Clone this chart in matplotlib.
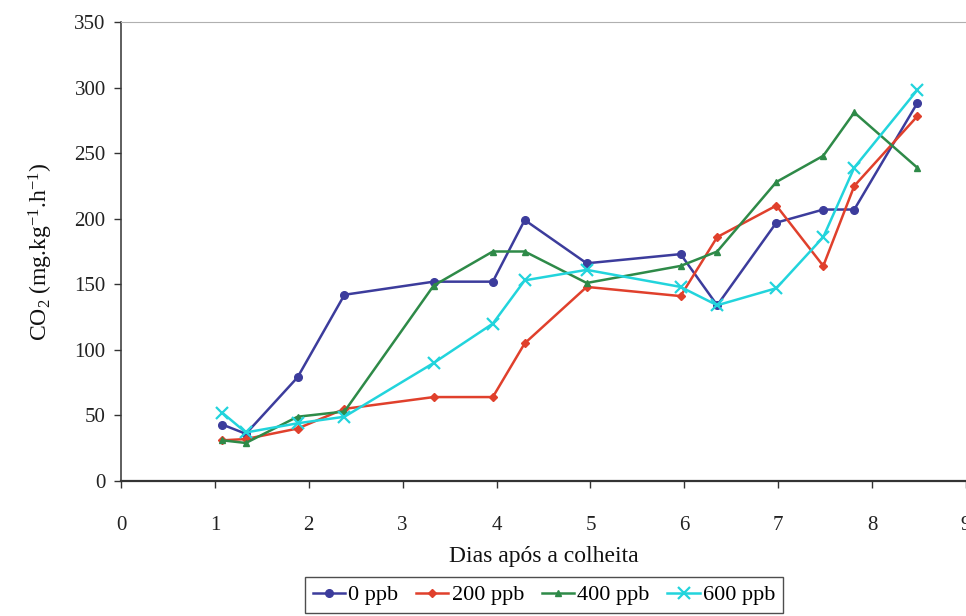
import matplotlib
matplotlib.use("Agg")
import matplotlib.pyplot as plt

# Dias após a colheita (horário de cada medição)
dias = [1.08, 1.33, 1.88, 2.38, 3.33, 3.96, 4.30, 4.96, 5.96, 6.35, 6.98, 7.48, 7.81, 8.48]

# Produção de CO2 (mg.kg-1.h-1) por concentração de etileno
co2_0ppb = [43, 36, 79, 142, 152, 152, 199, 166, 173, 134, 197, 207, 207, 288]
co2_200ppb = [31, 32, 40, 55, 64, 64, 105, 148, 141, 186, 210, 164, 225, 278]
co2_400ppb = [31, 29, 49, 53, 149, 175, 175, 151, 164, 175, 228, 248, 281, 239]
co2_600ppb = [52, 37, 44, 49, 90, 120, 153, 161, 148, 134, 147, 186, 239, 298]

rotulos = ["0 ppb", "200 ppb", "400 ppb", "600 ppb"]

plt.rcParams["font.family"] = ["Liberation Serif", "DejaVu Serif"]
plt.rcParams["mathtext.fontset"] = "custom"
plt.rcParams["mathtext.rm"] = "Liberation Serif"
plt.rcParams["mathtext.it"] = "Liberation Serif:italic"

W, H = 966, 616
fig = plt.figure(figsize=(W / 100, H / 100), dpi=100)
ax = fig.add_axes([121 / W, 1 - 481 / H, (966 - 121) / W, (481 - 22) / H])

series = [
    (co2_0ppb, "#3c3c9c", "o", 5.5, dict()),
    (co2_200ppb, "#e0402c", "D", 4.0, dict()),
    (co2_400ppb, "#2e8a48", "^", 5.0, dict()),
    (co2_600ppb, "#22d4dc", "x", 9.0, dict(markeredgewidth=1.6)),
]

for (vals, cor, mk, ms, extra), rot in zip(series, rotulos):
    ax.plot(dias, vals, color=cor, marker=mk, markersize=ms, linewidth=1.8,
            label=rot, clip_on=False, **extra)

ax.set_xlim(0, 9)
ax.set_ylim(0, 350)
ax.set_xticks(range(0, 10))
ax.set_yticks(range(0, 351, 50))
ax.tick_params(axis="both", labelsize=15, length=5, width=1, color="#333333",
               colors="#222222", direction="out")
ax.tick_params(axis="x", pad=20)
ax.tick_params(axis="y", pad=6)

ax.spines["right"].set_visible(False)
ax.spines["top"].set_color("#b0b0b0")
ax.spines["top"].set_linewidth(0.8)
ax.spines["top"].set_linestyle((0, (1, 1)))
ax.spines["left"].set_color("#333333")
ax.spines["bottom"].set_color("#333333")
ax.spines["left"].set_linewidth(1.1)
ax.spines["bottom"].set_linewidth(1.6)

ax.set_xlabel("Dias após a colheita", fontsize=17, labelpad=8, color="#111111")
ax.set_ylabel(r"CO$_{2}$ (mg.kg$^{\mathregular{-1}}$.h$^{\mathregular{-1}}$)",
              fontsize=17, labelpad=14, color="#111111")

leg = fig.legend(loc="upper center", bbox_to_anchor=(544 / W, 1 - 577 / H),
                 ncol=4, fontsize=16, frameon=True, fancybox=False,
                 edgecolor="#222222", handlelength=1.45, handletextpad=0.15,
                 columnspacing=0.8, borderpad=0.35, borderaxespad=0)
leg.get_frame().set_linewidth(1.0)

fig.savefig("out.png", dpi=100)
